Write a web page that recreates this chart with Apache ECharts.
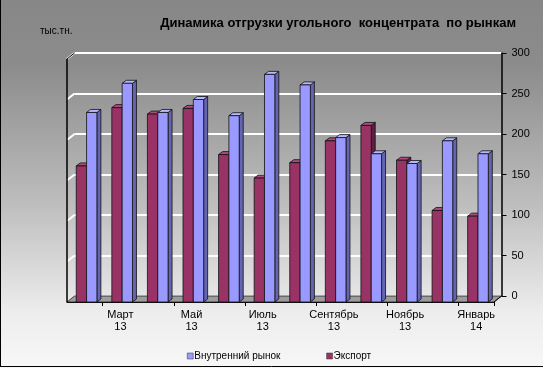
<!DOCTYPE html>
<html><head><meta charset="utf-8">
<script src="https://cdn.jsdelivr.net/npm/echarts@6/dist/echarts.min.js"></script>
<style>html,body{margin:0;padding:0;background:#fff}#c{width:543px;height:368px}</style>
</head><body><div id="c"></div>
<script>
const categories = ['Февраль\n13','Март\n13','Апрель\n13','Май\n13','Июнь\n13','Июль\n13','Август\n13','Сентябрь\n13','Октябрь\n13','Ноябрь\n13','Декабрь\n13','Январь\n14'];
const exportValues   = [168, 240, 232, 239, 182, 153, 172, 199, 218, 175, 113, 106];
const domesticValues = [234, 270, 234, 250, 230, 281, 268, 203, 183, 171, 199, 183];
const yTicks = [0, 50, 100, 150, 200, 250, 300];
const seriesNames = ['Внутренний рынок', 'Экспорт'];

const DX = 7.5, DY = 6;          // floor / wall depth
const BDX = 4, BDY = 3;          // bar depth

const palette = {
  exp: {front:'#993366', side:'#5e1f40', top:'#b04a7c'},
  dom: {front:'#9999ff', side:'#6464b0', top:'#b8b8ff'}
};

function barRenderer(kind, offsetFrac) {
  return function (params, api) {
    const cat = api.value(0), val = api.value(1);
    const band = api.size([1, 0])[0];
    const c0 = api.coord([cat, 0]);
    const c1 = api.coord([cat, val]);
    const w = band * 0.29;
    const x0 = c0[0] + band * offsetFrac;
    const x1 = x0 + w;
    const yb = c0[1], yt = c1[1];
    const col = palette[kind];
    const st = {stroke:'#111', lineWidth:0.8};
    return {type:'group', children:[
      {type:'polygon', shape:{points:[[x1,yb],[x1+BDX,yb-BDY],[x1+BDX,yt-BDY],[x1,yt]]}, style:Object.assign({fill:col.side}, st)},
      {type:'polygon', shape:{points:[[x0,yt],[x1,yt],[x1+BDX,yt-BDY],[x0+BDX,yt-BDY]]}, style:Object.assign({fill:col.top}, st)},
      {type:'rect', shape:{x:x0, y:yt, width:w, height:yb-yt}, style:Object.assign({fill:col.front}, st)}
    ]};
  };
}

function wallRenderer(params, api) {
  const band = api.size([1, 0])[0];
  const n = categories.length;
  const left = api.coord([0, 0])[0] - band / 2;
  const right = api.coord([n - 1, 0])[0] + band / 2;
  const y0 = api.coord([0, 0])[1];
  const yTop = api.coord([0, yTicks[yTicks.length - 1]])[1];
  const children = [];
  children.push({type:'polygon', shape:{points:[[left,y0],[right,y0],[right+DX,y0-DY],[left+DX,y0-DY]]},
    style:{fill:'#9c9c9c', stroke:'#222', lineWidth:0.8}});
  yTicks.forEach(function (t) {
    if (t === 0) return;
    const y = api.coord([0, t])[1];
    children.push({type:'line', shape:{x1:left, y1:y, x2:left+DX, y2:y-DY}, style:{stroke:'#ffffff', lineWidth:2}});
  });
  children.push({type:'line', shape:{x1:left, y1:y0, x2:left, y2:yTop}, style:{stroke:'#000', lineWidth:1.5}});
  children.push({type:'line', shape:{x1:left, y1:yTop, x2:left+DX, y2:yTop-DY}, style:{stroke:'#000', lineWidth:1}});
  children.push({type:'line', shape:{x1:right, y1:y0, x2:right+DX, y2:y0-DY}, style:{stroke:'#000', lineWidth:1}});
  return {type:'group', children:children};
}

const chart = echarts.init(document.getElementById('c'), null, {renderer:'canvas'});
const font = "'Liberation Sans', Arial, sans-serif";
chart.setOption({
  animation:false,
  backgroundColor:{type:'linear', x:0, y:0, x2:0, y2:1, colorStops:[
    {offset:0, color:'#878787'}, {offset:0.18, color:'#8c8c8c'}, {offset:0.55, color:'#bdbdbd'}, {offset:0.85, color:'#ededed'}, {offset:1, color:'#f7f7f7'}]},
  textStyle:{fontFamily:font},
  title:[
    {text:'Динамика отгрузки угольного  концентрата  по рынкам', right:22, top:12,
     textStyle:{fontSize:13, fontWeight:'bold', color:'#000', fontFamily:font}},
    {text:'тыс.тн.', left:35, top:21, textStyle:{fontSize:10, fontWeight:'normal', color:'#000', fontFamily:font}}
  ],
  legend:{left:182, top:346, itemWidth:6, itemHeight:6, itemGap:46, icon:'rect',
    data:seriesNames, textStyle:{fontSize:10, color:'#000', fontFamily:font, padding:[0,0,0,-4]},
    itemStyle:{borderColor:'#333', borderWidth:0.5}},
  grid:[
    {left:67, top:59, width:427, height:243},
    {left:67 + DX, top:59 - DY, width:427, height:243}
  ],
  xAxis:[
    {type:'category', gridIndex:0, data:categories, boundaryGap:true,
     axisLine:{show:true, lineStyle:{color:'#000', width:1}},
     axisTick:{show:true, length:4, lineStyle:{color:'#000'}},
     axisLabel:{interval:function(i){return i % 2 === 1;}, fontSize:11, color:'#000', lineHeight:12, margin:7, fontFamily:font}},
    {type:'category', gridIndex:1, data:categories, show:false}
  ],
  yAxis:[
    {type:'value', gridIndex:0, min:0, max:300, interval:50, show:false, splitLine:{show:false}},
    {type:'value', gridIndex:1, min:0, max:300, interval:50, position:'right',
     axisLine:{show:true, lineStyle:{color:'#000', width:1.5}},
     axisTick:{show:true, length:5, inside:false, lineStyle:{color:'#000'}},
     axisLabel:{fontSize:11, color:'#000', margin:10, fontFamily:font},
     splitLine:{show:true, lineStyle:{color:'#ffffff', width:2}}}
  ],
  series:[
    {name:'walls', type:'custom', xAxisIndex:0, yAxisIndex:0, data:[[0,0]], renderItem:wallRenderer, z:1, silent:true},
    {name:seriesNames[1], type:'custom', xAxisIndex:0, yAxisIndex:0, z:3,
     itemStyle:{color:'#993366'},
     data:exportValues.map(function(v,i){return [i,v];}), renderItem:barRenderer('exp', -0.24)},
    {name:seriesNames[0], type:'custom', xAxisIndex:0, yAxisIndex:0, z:3,
     itemStyle:{color:'#9999ff'},
     data:domesticValues.map(function(v,i){return [i,v];}), renderItem:barRenderer('dom', 0.05)}
  ],
  graphic:[
    {type:'line', shape:{x1:0.5, y1:0, x2:0.5, y2:367}, style:{stroke:'#000', lineWidth:1}, z:100},
    {type:'line', shape:{x1:0, y1:366.5, x2:543, y2:366.5}, style:{stroke:'#000', lineWidth:1}, z:100}
  ]
});
</script></body></html>
